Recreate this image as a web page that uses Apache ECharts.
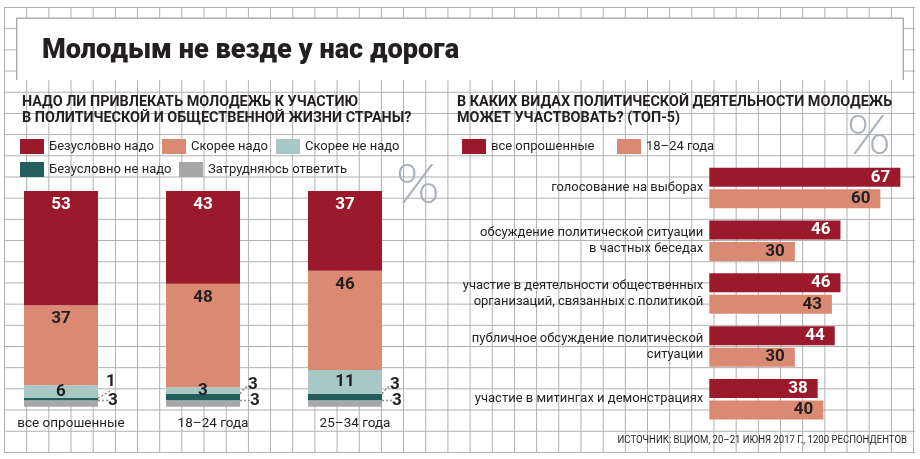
<!DOCTYPE html>
<html><head><meta charset="utf-8">
<script src="https://cdn.jsdelivr.net/npm/echarts@6/dist/echarts.min.js"></script>
<style>
html,body{margin:0;padding:0;background:#fff;}
#wrap{position:relative;width:920px;height:459px;overflow:hidden;background:#fff;}
#bg{position:absolute;left:4px;top:7px;width:910.8px;height:446.2px;
background-image:linear-gradient(to right,#adadad 0,#adadad 1.4px,transparent 1.4px),linear-gradient(to bottom,#adadad 0,#adadad 1.4px,transparent 1.4px);
background-size:22.18px 21.19px;}
#chart{position:absolute;left:0;top:0;width:920px;height:459px;}
</style></head>
<body><div id="wrap"><div id="bg"></div><div id="chart"></div></div>
<script>
// ---- data: left chart ----
const groups = ['все опрошенные', '18–24 года', '25–34 года'];
const answerNames = ['Безусловно надо', 'Скорее надо', 'Скорее не надо', 'Безусловно не надо', 'Затрудняюсь ответить'];
const definitelyYes = [53, 43, 37];
const ratherYes = [37, 48, 46];
const ratherNo = [6, 3, 11];
const definitelyNo = [1, 3, 3];
const hardToSay = [3, 3, 3];
// ---- data: right chart ----
const activities = [
  'голосование на выборах',
  'обсуждение политической ситуации\nв частных беседах',
  'участие в деятельности общественных\nорганизаций, связанных с политикой',
  'публичное обсуждение политической\nситуации',
  'участие в митингах и демонстрациях'
];
const rightNames = ['все опрошенные', '18–24 года'];
const allRespondents = [67, 46, 46, 44, 38];
const age18to24 = [60, 30, 43, 30, 40];
// ---- texts ----
const titleText = 'Молодым не везде у нас дорога';
const leftQuestion = 'НАДО ЛИ ПРИВЛЕКАТЬ МОЛОДЕЖЬ К УЧАСТИЮ\nВ ПОЛИТИЧЕСКОЙ И ОБЩЕСТВЕННОЙ ЖИЗНИ СТРАНЫ?';
const rightQuestion = 'В КАКИХ ВИДАХ ПОЛИТИЧЕСКОЙ ДЕЯТЕЛЬНОСТИ МОЛОДЕЖЬ\nМОЖЕТ УЧАСТВОВАТЬ? (ТОП-5)';
const sourceText = 'ИСТОЧНИК: ВЦИОМ, 20–21 ИЮНЯ 2017 Г., 1200 РЕСПОНДЕНТОВ';

const C = {
  red: '#9a1a2c', salmon: '#da8a72', lteal: '#a8c8c5', dteal: '#235d5c', grey: '#a7a7aa', text: '#231f20'
};
const FONT = 'Roboto, "Noto Sans", sans-serif';
const valLabel = (color) => ({ show: true, fontSize: 17, fontWeight: 'bold', color: color, fontFamily: FONT });

function legendItem(name, left, top) {
  return {
    data: [name], left: left, top: top, padding: 0, icon: 'rect', itemWidth: 24, itemHeight: 15,
    selectedMode: false,
    textStyle: { fontSize: 13, color: C.text, fontFamily: FONT }
  };
}

const chart = echarts.init(document.getElementById('chart'), null, { renderer: 'canvas' });
const option = {
  backgroundColor: 'transparent',
  animation: false,
  legend: [
    legendItem(answerNames[0], 20, 139),
    legendItem(answerNames[1], 162, 139),
    legendItem(answerNames[2], 276, 139),
    legendItem(answerNames[3], 20, 162),
    legendItem(answerNames[4], 179, 162),
    legendItem(rightNames[0], 462, 139),
    legendItem(rightNames[1], 617, 139)
  ],
  grid: [
    { left: 61, width: 284, top: 191, height: 215.7 },
    { left: 709.3, width: 199.6, top: 161.6, height: 264 }
  ],
  xAxis: [
    { gridIndex: 0, type: 'category', data: groups, boundaryGap: false,
      axisLine: { show: false }, axisTick: { show: false },
      axisLabel: { fontSize: 13.5, color: C.text, fontFamily: FONT, margin: 10, padding: [0, 0, 0, 20] } },
    { gridIndex: 1, type: 'value', min: 0, max: 70, show: false }
  ],
  yAxis: [
    { gridIndex: 0, type: 'value', min: 0, max: 100, show: false },
    { gridIndex: 1, type: 'category', data: activities, inverse: true,
      axisLine: { show: false }, axisTick: { show: false },
      axisLabel: { fontSize: 13, lineHeight: 16, margin: 6, color: C.text, fontFamily: FONT } }
  ],
  series: [
    { name: answerNames[4], type: 'bar', stack: 'a', data: hardToSay, barWidth: 74, clip: false,
      itemStyle: { color: C.grey },
      label: Object.assign(valLabel(C.text), { position: 'right', distance: 10 }),
      labelLayout: { dy: -3 },
      labelLine: { show: true, lineStyle: { color: '#8f8f8f', width: 1.5, type: [2, 2] } } },
    { name: answerNames[3], type: 'bar', stack: 'a', data: definitelyNo, barWidth: 74, clip: false,
      itemStyle: { color: C.dteal },
      label: Object.assign(valLabel(C.text), { position: 'right', distance: 8 }),
      labelLayout: function (p) { return { dy: p.dataIndex === 0 ? -17 : -12 }; },
      labelLine: { show: true, lineStyle: { color: '#8f8f8f', width: 1.5, type: [2, 2] } } },
    { name: answerNames[2], type: 'bar', stack: 'a', data: ratherNo, barWidth: 74, clip: false,
      itemStyle: { color: C.lteal },
      label: Object.assign(valLabel(C.text), { position: 'inside' }) },
    { name: answerNames[1], type: 'bar', stack: 'a', data: ratherYes, barWidth: 74, clip: false,
      itemStyle: { color: C.salmon },
      label: Object.assign(valLabel(C.text), { position: 'insideTop', distance: 5 }) },
    { name: answerNames[0], type: 'bar', stack: 'a', data: definitelyYes, barWidth: 74, clip: false,
      itemStyle: { color: C.red },
      label: Object.assign(valLabel('#ffffff'), { position: 'insideTop', distance: 5 }) },
    { name: rightNames[0], type: 'bar', xAxisIndex: 1, yAxisIndex: 1, data: allRespondents,
      barWidth: 19, barGap: '13%', itemStyle: { color: C.red },
      label: Object.assign(valLabel('#ffffff'), { position: 'insideRight', distance: 10 }) },
    { name: rightNames[1], type: 'bar', xAxisIndex: 1, yAxisIndex: 1, data: age18to24,
      barWidth: 19, barGap: '13%', itemStyle: { color: C.salmon },
      label: Object.assign(valLabel(C.text), { position: 'insideRight', distance: 10 }) }
  ],
  graphic: [
    { type: 'rect', shape: { x: 16.7, y: 18.3, width: 886.6, height: 62 }, style: { fill: '#fff' }, z: 0 },
    { type: 'polyline', shape: { points: [[16.7, 80], [16.7, 18.3], [903.3, 18.3], [903.3, 80]] },
      style: { stroke: '#adadad', lineWidth: 1.4, fill: null }, z: 1 },
    { type: 'text', x: 42, y: 51, scaleX: 0.97, style: { text: titleText, fontSize: 28, fontWeight: 900, fill: C.text,
      fontFamily: FONT, textVerticalAlign: 'middle' }, z: 2 },
    { type: 'text', x: 22, y: 94, scaleX: 0.96, style: { text: leftQuestion, fontSize: 15, lineHeight: 16, fontWeight: 'bold',
      fill: C.text, fontFamily: FONT } },
    { type: 'text', x: 457, y: 94, scaleX: 0.96, style: { text: rightQuestion, fontSize: 15, lineHeight: 16, fontWeight: 'bold',
      fill: C.text, fontFamily: FONT } },
    { type: 'text', x: 396, y: 157, style: { text: '%', fontSize: 56, fontWeight: 300, fill: '#a9b1ba',
      fontFamily: 'Lato, "Open Sans", sans-serif' } },
    { type: 'text', x: 847, y: 108, style: { text: '%', fontSize: 56, fontWeight: 300, fill: '#a9b1ba',
      fontFamily: 'Lato, "Open Sans", sans-serif' } },
    { type: 'text', x: 907, y: 440, scaleX: 0.87, style: { text: sourceText, fontSize: 11, fill: C.text,
      fontFamily: FONT, textAlign: 'right', textVerticalAlign: 'middle' } }
  ]
};
chart.setOption(option);
</script>
</body></html>
